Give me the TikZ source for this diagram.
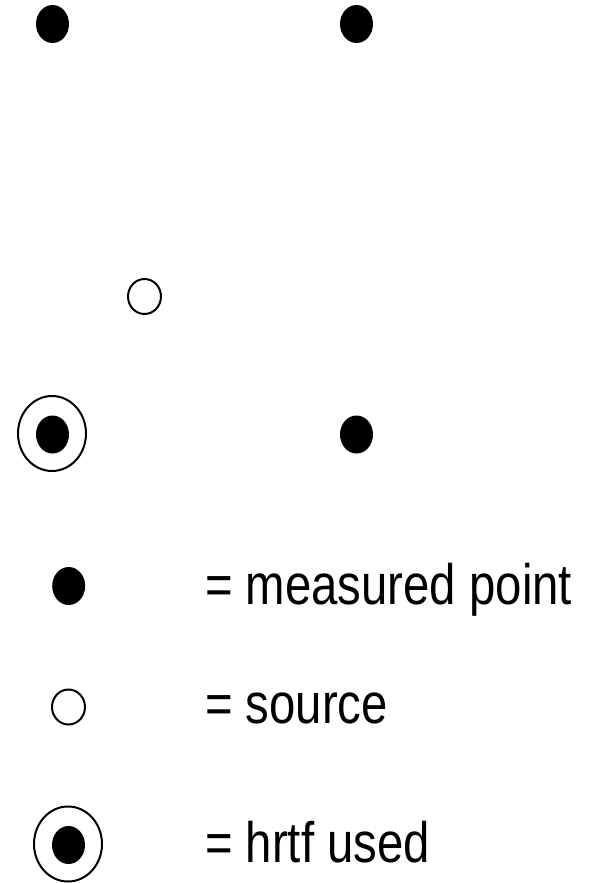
\documentclass[tikz,border=0pt]{standalone}
\usepackage{fontspec}
\setmainfont[FakeStretch=0.83]{Liberation Sans}
\usetikzlibrary{shapes.geometric}
\begin{document}
\begin{tikzpicture}[x=1pt,y=-1pt,
  dot/.style={ellipse,fill=black,draw=none,inner sep=0pt,minimum width=33pt,minimum height=38pt},
  src/.style={ellipse,draw=black,line width=2pt,fill=white,inner sep=0pt,minimum width=33pt,minimum height=35pt},
  ring/.style={ellipse,draw=black,line width=2pt,inner sep=0pt,minimum width=68pt,minimum height=75pt},
  lbl/.style={anchor=base west,inner sep=0pt,font=\fontsize{57}{60}\selectfont}]
\useasboundingbox (0,0) rectangle (596,883);
% diagram
\node[dot] (tl) at (52.5,24) {};
\node[dot] (tr) at (356.5,24) {};
\node[src] (s) at (144.5,296.5) {};
\node[ring] (hr) at (52,433.5) {};
\node[dot] (hd) at (52.5,434.5) {};
\node[dot] (br) at (356.5,434.5) {};
% legend
\node[dot] (ld) at (68.7,586) {};
\node[src] (ls) at (68.5,707) {};
\node[ring] (lr) at (68,844) {};
\node[dot] (lrd) at (68.5,845) {};
\node[lbl] (t1) at (205,604) {= measured point};
\node[lbl] (t2) at (205,723) {= source};
\node[lbl] (t3) at (205,862) {= hrtf used};
\end{tikzpicture}
\end{document}
